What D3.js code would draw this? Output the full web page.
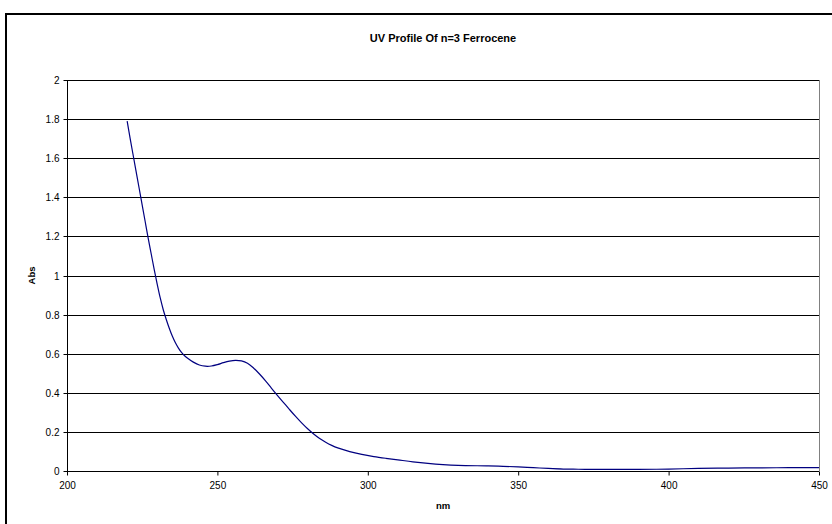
<!DOCTYPE html>
<html>
<head>
<meta charset="utf-8">
<script src="https://cdn.jsdelivr.net/npm/d3@7"></script>
<style>
  html, body { margin: 0; padding: 0; background: #fff; }
  svg { display: block; font-family: "Liberation Sans", Arial, sans-serif; }
</style>
</head>
<body>
<svg id="chart" width="832" height="524"></svg>
<script>
const chartTitle = "UV Profile Of n=3 Ferrocene";
const xTitle = "nm";
const yTitle = "Abs";
const xTicks = [200, 250, 300, 350, 400, 450];
const yTicks = [0, 0.2, 0.4, 0.6, 0.8, 1, 1.2, 1.4, 1.6, 1.8, 2];
const wavelength = [220,221,222,223,224,225,226,227,228,229,230,231,232,233,234,235,236,237,238,239,240,242,244,246,248,250,252,254,256,258,260,262,264,266,268,270,272,274,276,278,280,282,284,286,288,290,294,298,302,306,310,315,320,325,330,340,345,350,355,360,365,370,375,380,390,400,410,420,430,440,450];
const absorbance = [1.79,1.70,1.615,1.53,1.445,1.36,1.275,1.19,1.11,1.03,0.955,0.885,0.825,0.775,0.73,0.69,0.657,0.63,0.608,0.591,0.578,0.557,0.542,0.536,0.537,0.544,0.554,0.562,0.566,0.563,0.551,0.527,0.496,0.461,0.423,0.386,0.35,0.314,0.279,0.246,0.216,0.189,0.166,0.147,0.131,0.118,0.099,0.085,0.074,0.065,0.057,0.047,0.039,0.033,0.029,0.026,0.024,0.021,0.017,0.013,0.010,0.009,0.008,0.008,0.008,0.010,0.013,0.015,0.016,0.017,0.017];

const svg = d3.select("#chart");
const margin = {left: 67, right: 13, top: 80, bottom: 53};
const W = 832, H = 524;

// outer frame (extends beyond the viewport on right/bottom)
svg.append("rect")
  .attr("x", 6).attr("y", 14).attr("width", 900).attr("height", 600)
  .attr("fill", "none").attr("stroke", "#000").attr("stroke-width", 2);

const x = d3.scaleLinear().domain([200, 450]).range([margin.left, W - margin.right]);
const y = d3.scaleLinear().domain([0, 2]).range([H - margin.bottom, margin.top]);

// gridlines
svg.append("g").selectAll("line").data(yTicks.filter(d => d > 0)).join("line")
  .attr("x1", x(200)).attr("x2", x(450))
  .attr("y1", d => Math.round(y(d)) + 0.5).attr("y2", d => Math.round(y(d)) + 0.5)
  .attr("stroke", "#000").attr("stroke-width", 1);

// right border of plot area
svg.append("line")
  .attr("x1", Math.round(x(450)) + 0.5).attr("x2", Math.round(x(450)) + 0.5)
  .attr("y1", y(2)).attr("y2", y(0))
  .attr("stroke", "#808080").attr("stroke-width", 1);

// axes
const yAxis = d3.axisLeft(y).tickValues(yTicks).tickSize(4).tickPadding(4)
  .tickFormat(d => d3.format("~g")(d));
const gy = svg.append("g").attr("transform", `translate(${Math.round(x(200)) + 0.5},0)`).call(yAxis);
gy.selectAll("text").attr("font-size", 10).attr("fill", "#000")
  .attr("font-family", "Liberation Sans, Arial, sans-serif");
gy.selectAll(".tick line").attr("stroke", "#000");
gy.select(".domain").attr("stroke", "#000").attr("d", `M0,${y(2)}V${y(0)}`);
gy.selectAll(".tick").attr("transform", d => `translate(0,${Math.round(y(d)) + 0.5})`);

const xAxis = d3.axisBottom(x).tickValues(xTicks).tickSize(4).tickPadding(6);
const gx = svg.append("g").attr("transform", `translate(0,${Math.round(y(0)) + 0.5})`).call(xAxis);
gx.selectAll("text").attr("font-size", 10).attr("fill", "#000")
  .attr("font-family", "Liberation Sans, Arial, sans-serif");
gx.selectAll(".tick line").attr("stroke", "#000");
gx.select(".domain").attr("stroke", "#000").attr("d", `M${x(200)},0H${x(450)}`);

// data line
const pts = wavelength.map((w, i) => [w, absorbance[i]]);
const line = d3.line().x(d => x(d[0])).y(d => y(d[1])).curve(d3.curveCatmullRom.alpha(0.5));
svg.append("path").datum(pts)
  .attr("d", line).attr("fill", "none")
  .attr("stroke", "#000080").attr("stroke-width", 1.2);

// titles
const cx = (x(200) + x(450)) / 2;
svg.append("text").attr("x", cx).attr("y", 42).attr("text-anchor", "middle")
  .attr("font-size", 11).attr("font-weight", "bold").text(chartTitle);
svg.append("text").attr("x", cx).attr("y", 509).attr("text-anchor", "middle")
  .attr("font-size", 9.5).attr("font-weight", "bold").text(xTitle);
svg.append("text").attr("transform", `translate(35,${(y(0) + y(2)) / 2}) rotate(-90)`)
  .attr("text-anchor", "middle")
  .attr("font-size", 9.5).attr("font-weight", "bold").text(yTitle);
</script>
</body>
</html>
